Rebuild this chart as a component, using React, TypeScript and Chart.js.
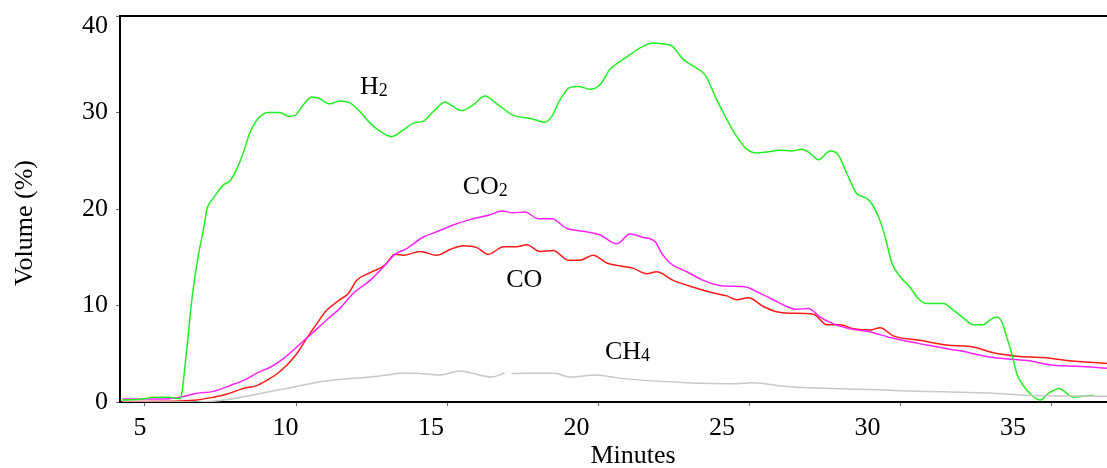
import React, { useEffect, useRef } from "react";
import { Chart, registerables } from "chart.js";

Chart.register(...registerables);

// ---- Data ----
const h2Minutes = [4.25, 4.9, 5.3, 5.8, 6.16, 6.38, 6.55, 6.76, 6.93, 7.06, 7.26, 7.59, 7.81, 8.03, 8.25, 8.47, 8.75, 9.08, 9.47, 9.74, 9.96, 10.24, 10.52, 10.73, 11.12, 11.45, 11.78, 12.11, 12.45, 12.78, 13.16, 13.55, 13.88, 14.21, 14.54, 14.93, 15.2, 15.48, 15.86, 16.25, 16.64, 17.19, 17.74, 18.24, 18.46, 18.73, 19.06, 19.34, 19.73, 20.06, 20.39, 20.72, 21.05, 21.38, 21.82, 22.15, 22.43, 22.81, 23.14, 23.53, 23.92, 24.25, 24.58, 24.91, 25.24, 25.57, 26.01, 26.4, 26.73, 27.0, 27.28, 27.67, 27.94, 28.22, 28.55, 28.93, 29.27, 29.49, 29.71, 29.98, 30.31, 30.59, 30.87, 31.42, 31.75, 32.08, 32.41, 32.74, 32.96, 33.18, 33.35, 33.51, 33.68, 33.85, 34.06, 34.34, 34.62, 34.89, 35.26, 35.5, 35.72, 36.05, 36.38];
const h2Volume = [0.2, 0.3, 0.5, 0.5, 0.35, 5.4, 10.6, 15.1, 17.8, 20.1, 21.1, 22.5, 22.9, 24.1, 25.8, 27.9, 29.4, 30.0, 30.0, 29.6, 29.7, 30.8, 31.6, 31.5, 30.9, 31.2, 31.0, 30.1, 28.9, 28.05, 27.5, 28.2, 28.9, 29.1, 30.1, 31.1, 30.6, 30.2, 30.8, 31.7, 30.9, 29.7, 29.4, 29.0, 29.6, 31.3, 32.6, 32.7, 32.4, 32.9, 34.5, 35.3, 36.0, 36.7, 37.2, 37.1, 36.9, 35.5, 34.8, 33.9, 31.3, 29.3, 27.5, 26.2, 25.8, 25.9, 26.1, 26.0, 26.2, 25.8, 25.1, 26.0, 25.6, 23.7, 21.6, 21.0, 19.2, 17.1, 14.4, 13.0, 11.9, 10.7, 10.2, 10.2, 9.5, 8.7, 8.0, 8.0, 8.5, 8.8, 8.3, 6.75, 5.0, 2.9, 1.7, 0.7, 0.2, 0.9, 1.4, 0.9, 0.5, 0.6, 0.7];

const co2Minutes = [4.25, 5.5, 6.16, 6.71, 7.26, 7.81, 8.37, 8.7, 9.14, 9.58, 10.02, 10.52, 11.01, 11.45, 11.89, 12.45, 12.89, 13.27, 13.66, 14.21, 14.54, 15.2, 15.75, 16.42, 16.8, 17.19, 17.57, 18.01, 18.46, 18.95, 19.5, 20.06, 20.61, 21.05, 21.43, 21.88, 22.1, 22.37, 22.93, 23.47, 23.97, 24.36, 24.85, 25.35, 25.79, 26.23, 26.56, 26.95, 27.34, 27.78, 28.33, 28.93, 29.76, 30.87, 31.97, 33.07, 34.18, 35.06, 35.83, 36.83];
const co2Volume = [0.3, 0.3, 0.5, 0.9, 1.1, 1.7, 2.4, 3.0, 3.6, 4.5, 5.7, 7.1, 8.5, 9.7, 11.25, 12.6, 14.0, 15.3, 15.9, 17.1, 17.5, 18.35, 18.9, 19.4, 19.8, 19.6, 19.7, 19.0, 19.0, 18.0, 17.7, 17.3, 16.4, 17.4, 17.1, 16.6, 15.4, 14.4, 13.5, 12.6, 12.1, 12.0, 11.95, 11.25, 10.6, 9.9, 9.6, 9.7, 8.8, 8.1, 7.6, 7.3, 6.6, 5.9, 5.3, 4.6, 4.3, 3.8, 3.7, 3.5];

const coMinutes = [4.25, 6.16, 6.71, 7.26, 7.7, 8.25, 8.7, 9.03, 9.36, 9.69, 10.02, 10.35, 10.68, 11.01, 11.45, 11.73, 12.0, 12.45, 12.94, 13.27, 13.55, 14.1, 14.65, 15.09, 15.53, 15.98, 16.36, 16.86, 17.3, 17.63, 18.07, 18.51, 19.0, 19.39, 19.83, 20.28, 20.72, 21.16, 21.6, 21.93, 22.48, 23.14, 23.81, 24.25, 24.58, 24.96, 25.46, 25.9, 26.34, 27.12, 27.56, 28.0, 28.44, 28.99, 29.32, 29.76, 30.64, 31.53, 32.41, 33.07, 33.85, 34.73, 35.5, 36.83];
const coVolume = [0.05, 0.1, 0.2, 0.5, 0.8, 1.4, 1.7, 2.25, 2.9, 3.8, 5.0, 6.6, 8.1, 9.5, 10.6, 11.25, 12.6, 13.4, 14.2, 15.3, 15.2, 15.6, 15.2, 15.8, 16.2, 16.0, 15.3, 16.1, 16.1, 16.3, 15.6, 15.7, 14.7, 14.7, 15.2, 14.4, 14.1, 13.85, 13.3, 13.5, 12.6, 11.9, 11.3, 11.0, 10.6, 10.8, 9.9, 9.35, 9.2, 9.1, 8.0, 8.0, 7.6, 7.45, 7.7, 6.85, 6.4, 5.9, 5.7, 5.1, 4.75, 4.6, 4.3, 4.0];

const ch4Minutes = [4.25, 6.7, 9.69, 10.8, 11.34, 12.45, 13.0, 13.55, 14.1, 14.76, 15.42, 15.86, 16.47, 16.9, 17.0, 17.13, 18.51, 19.06, 19.94, 20.61, 22.93, 24.58, 25.13, 26.23, 28.93, 29.76, 31.42, 33.07, 34.18, 36.83];
const ch4Volume = [0, 0, 1.4, 2.1, 2.3, 2.6, 2.8, 3.0, 2.95, 2.8, 3.2, 2.95, 2.6, 3.0, null, 2.95, 3.0, 2.6, 2.8, 2.5, 2.0, 1.9, 2.0, 1.6, 1.3, 1.2, 1.05, 0.9, 0.7, 0.6];

const xTickValues = [5, 10, 15, 20, 25, 30, 35];
const yTickValues = [0, 10, 20, 30, 40];

// series label annotations: main text, subscript, anchor in data units
const seriesLabels = [
  { text: "H", sub: "2", minute: 12.11, volume: 31.9 },
  { text: "CO", sub: "2", minute: 15.51, volume: 21.6 },
  { text: "CO", sub: "", minute: 16.95, volume: 11.95 },
  { text: "CH", sub: "4", minute: 20.22, volume: 4.47 },
];

const SERIF = "'Liberation Serif', 'Times New Roman', serif";

function toPoints(xs: number[], ys: (number | null)[]) {
  const n = Math.min(xs.length, ys.length);
  const out: { x: number; y: number | null }[] = [];
  for (let i = 0; i < n; i++) out.push({ x: xs[i], y: ys[i] });
  return out;
}

function zeroPadding(s: any) {
  s.paddingTop = 0;
  s.paddingBottom = 0;
  s.paddingLeft = 0;
  s.paddingRight = 0;
}

const overlayPlugin = {
  id: "overlay",
  afterDraw(chart: any) {
    const { ctx, chartArea, scales } = chart;
    const xs = scales.x;
    const ys = scales.y;
    ctx.save();
    // top frame line
    ctx.strokeStyle = "#000";
    ctx.lineWidth = 2;
    ctx.beginPath();
    ctx.moveTo(chartArea.left - 1, chartArea.top);
    ctx.lineTo(chartArea.right, chartArea.top);
    ctx.stroke();

    // series labels
    ctx.fillStyle = "#000";
    ctx.textBaseline = "alphabetic";
    ctx.textAlign = "left";
    for (const l of seriesLabels) {
      const px = xs.getPixelForValue(l.minute);
      const py = ys.getPixelForValue(l.volume);
      ctx.font = `26px ${SERIF}`;
      ctx.fillText(l.text, px, py);
      const w = ctx.measureText(l.text).width;
      if (l.sub) {
        ctx.font = `18px ${SERIF}`;
        ctx.fillText(l.sub, px + w, py + 2);
      }
    }

    // shifted top y tick label
    ctx.font = `26px ${SERIF}`;
    ctx.textAlign = "right";
    ctx.textBaseline = "middle";
    ctx.fillText(String(yTickValues[yTickValues.length - 1]), chartArea.left - 12, ys.getPixelForValue(40) + 10);

    // axis titles
    ctx.font = `26px ${SERIF}`;
    ctx.textAlign = "center";
    ctx.textBaseline = "middle";
    ctx.fillText("Minutes", 633, 456);
    ctx.translate(25, 223);
    ctx.rotate(-Math.PI / 2);
    ctx.fillText("Volume (%)", 0, 0);
    ctx.restore();
  },
};

export default function App() {
  const canvasRef = useRef<HTMLCanvasElement | null>(null);

  useEffect(() => {
    document.body.style.margin = "0";
    const canvas = canvasRef.current;
    if (!canvas) return;
    const lineBase = {
      borderWidth: 1.5,
      pointRadius: 0,
      fill: false,
      tension: 0.35,
      cubicInterpolationMode: "monotone",
      spanGaps: false,
    };
    const chart = new Chart(canvas, {
      type: "line",
      data: {
        datasets: [
          { ...lineBase, label: "CH4", data: toPoints(ch4Minutes, ch4Volume), borderColor: "#c8c8c8" },
          { ...lineBase, label: "H2", data: toPoints(h2Minutes, h2Volume), borderColor: "#22ee22" },
          { ...lineBase, label: "CO2", data: toPoints(co2Minutes, co2Volume), borderColor: "#ff22ff" },
          { ...lineBase, label: "CO", data: toPoints(coMinutes, coVolume), borderColor: "#ff1a1a" },
        ] as any,
      },
      options: {
        animation: false,
        responsive: false,
        maintainAspectRatio: false,
        layout: { padding: { top: 16, left: 0, right: 0, bottom: 0 } },
        plugins: {
          legend: { display: false },
          tooltip: { enabled: false },
          title: { display: false },
        },
        scales: {
          x: {
            type: "linear",
            position: "bottom",
            min: 4.173,
            max: 36.83,
            afterBuildTicks: (s: any) => {
              s.ticks = xTickValues.map((v) => ({ value: v }));
            },
            afterFit: (s: any) => {
              s.height = 6;
              zeroPadding(s);
            },
            grid: { drawOnChartArea: false, drawTicks: true, tickLength: 4, color: "#666", lineWidth: 1 },
            border: { display: true, color: "#000", width: 2 },
            ticks: { display: false },
          },
          xl: {
            type: "linear",
            position: "bottom",
            min: 4.313,
            max: 38.23,
            afterBuildTicks: (s: any) => {
              s.ticks = xTickValues.map((v) => ({ value: v }));
            },
            afterFit: (s: any) => {
              s.height = 60;
              zeroPadding(s);
            },
            grid: { display: false, drawTicks: false },
            border: { display: false },
            ticks: {
              font: { family: SERIF, size: 26 },
              color: "#000",
              padding: 5,
              maxRotation: 0,
              autoSkip: false,
            },
          },
          y: {
            type: "linear",
            position: "left",
            min: 0,
            max: 40,
            afterBuildTicks: (s: any) => {
              s.ticks = yTickValues.map((v) => ({ value: v }));
            },
            afterFit: (s: any) => {
              s.width = 120;
              zeroPadding(s);
            },
            grid: { drawOnChartArea: false, drawTicks: true, tickLength: 4, color: "#666", lineWidth: 1 },
            border: { display: true, color: "#000", width: 2 },
            ticks: {
              font: { family: SERIF, size: 26 },
              color: (c: any) => (c.tick && c.tick.value === 40 ? "rgba(0,0,0,0)" : "#000"),
              padding: 8,
            },
          },
        } as any,
      },
      plugins: [overlayPlugin],
    });
    return () => chart.destroy();
  }, []);

  return (
    <div style={{ position: "absolute", left: 0, top: 0, width: 1107, height: 468, background: "#fff" }}>
      <canvas ref={canvasRef} width={1107} height={468} style={{ display: "block" }} />
    </div>
  );
}
